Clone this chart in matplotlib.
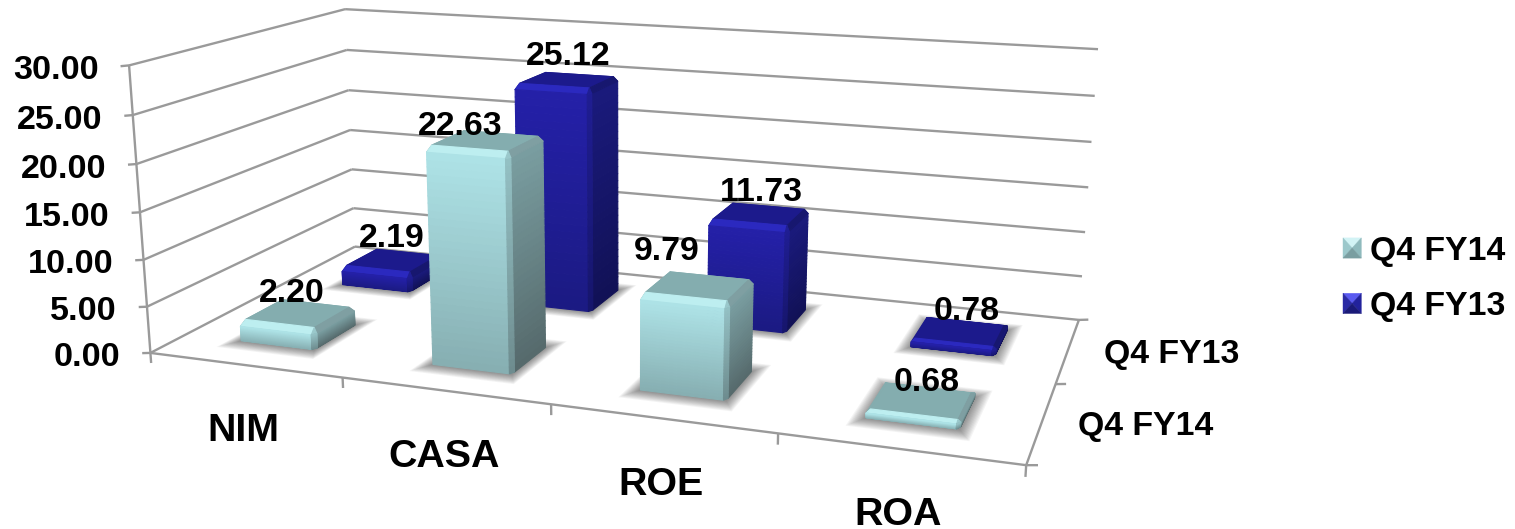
import numpy as np
import matplotlib
matplotlib.use('Agg')
import matplotlib.pyplot as plt
from matplotlib.patches import Patch, Polygon
from matplotlib.legend_handler import HandlerPatch
from matplotlib.transforms import offset_copy
from matplotlib.colors import to_rgb
from mpl_toolkits.mplot3d.art3d import Poly3DCollection

categories = ['NIM', 'CASA', 'ROE', 'ROA']
series_names = ['Q4 FY14', 'Q4 FY13']
q4_fy14 = [2.20, 22.63, 9.79, 0.68]
q4_fy13 = [2.19, 25.12, 11.73, 0.78]
z_ticks = [0, 5, 10, 15, 20, 25, 30]
nudge14 = [(-7, 20), (-26, 14), (-32, 35), (4, 19)]
nudge13 = [(-2, 22), (0, 24), (1, 22), (6, 20)]

W, H = 1515, 529
plt.rcParams['font.family'] = ['Liberation Sans', 'DejaVu Sans']
plt.rcParams['font.weight'] = 'bold'
fig = plt.figure(figsize=(W/100, H/100), dpi=100)
ax = fig.add_axes([432.26/W, -230.41/H, 398.87/W, 496.52/H], projection='3d', proj_type='persp',
                  focal_length=0.8013, computed_zorder=False)
ax.set_axis_off()
ax.apply_aspect = lambda position=None: None   # the view is stretched a little, as in the original
ax.view_init(elev=18.9982, azim=-70.6583, roll=-0.1397)
ax.set_box_aspect((np.exp(1.3310), np.exp(0.6294), 1))
ax.set_xlim(-1.3483-2, -1.3483+2)
ax.set_ylim(10.7399-1, 10.7399+1)
ax.set_zlim(-119.3262-15, -119.3262+15)

GRID = '#9a9a9a'
def line(a, b, lw=1.7):
    ax.plot([a[0], b[0]], [a[1], b[1]], [a[2], b[2]], color=GRID, lw=lw, zorder=1, clip_on=False,
            solid_capstyle='butt')

for z in z_ticks:
    line((0, 2, z), (4, 2, z))
    line((0, 0, z), (0, 2, z))
    line((-0.045, 0, z - 0.14), (0, 0, z))
line((0, 0, 0), (0, 0, 30))
line((0, 0, 0), (4, 0, 0))
line((4, 0, 0), (4, 2, 0))
for i in range(5):
    line((i, 0, 0), (i, 0, -1.1))
for j in range(3):
    line((4, j, 0), (4.045, j, 0.14))

def mix(a, b, t):
    a, b = np.array(to_rgb(a)), np.array(to_rgb(b))
    return tuple(a + (b - a)*t)

TEAL = dict(f0='#aee3e7', f1='#86aeb1', r0='#7a9ea1', r1='#55696b', t='#84adaf', b='#bdeef0', rb='#7f9fa2', c='#9ac8cb')
BLUE = dict(f0='#2420a8', f1='#1b1a82', r0='#1a1a7c', r1='#111155', t='#1c1a8c', b='#2b29bf', rb='#17176f', c='#1f1e94')

def poly(V, zo, **kw):
    c = Poly3DCollection(V, zorder=zo, **kw)
    ax.add_collection3d(c, autolim=False)
    c.set_clip_on(False)
    return c

def draw_bar(xc, yc, h, pal, zo):
    x0, x1, y0, y1 = xc-0.2, xc+0.19, yc-0.2, yc+0.2
    cx_, cy_ = 0.012, 0.03
    cz = min(0.6, h*0.3)
    top = h - cz
    sh = []
    L = 12
    for k in range(L):
        f = 1 - k/L
        mx, my = 0.06*f, 0.12*f
        sh.append([(x0-mx, y0-my, 0), (x1+mx, y0-my, 0), (x1+mx, y1+my, 0), (x0-mx, y1+my, 0)])
    poly(sh, zo-0.5, facecolors=(0, 0, 0, 0.045), edgecolors='none')
    V, C = [], []
    def add(p, col):
        V.append(p); C.append(col)
    N = 30
    for k in range(N):
        z0, z1 = top*k/N, top*(k+1)/N
        t = 1 - (k + 0.5)/N
        front = mix(pal['f0'], pal['f1'], t)
        right = mix(pal['r0'], pal['r1'], t)
        add([(x0, y0, z0), (x1-cx_, y0, z0), (x1-cx_, y0, z1), (x0, y0, z1)], front)
        add([(x1, y0+cy_, z0), (x1, y1, z0), (x1, y1, z1), (x1, y0+cy_, z1)], right)
        add([(x1-cx_, y0, z0), (x1, y0+cy_, z0), (x1, y0+cy_, z1), (x1-cx_, y0, z1)], mix(front, right, 0.5))
    a, b = (x0+cx_, y0+cy_), (x1-cx_, y1-cy_)
    add([(a[0], a[1], h), (b[0], a[1], h), (b[0], b[1], h), (a[0], b[1], h)], pal['t'])
    add([(x0, y0, top), (x1-cx_, y0, top), (b[0], a[1], h), (a[0], a[1], h)], pal['b'])
    add([(x1, y0+cy_, top), (x1, y1, top), (b[0], b[1], h), (b[0], a[1], h)], pal['rb'])
    add([(x1-cx_, y0, top), (x1, y0+cy_, top), (b[0], a[1], h)], pal['c'])
    add([(x0, y0, top), (a[0], a[1], h), (a[0], b[1], h), (x0, y1, top)], pal['t'])
    add([(x0, y1, top), (a[0], b[1], h), (b[0], b[1], h), (x1, y1, top)], pal['t'])
    poly(V, zo, facecolors=C, edgecolors=C, linewidths=0.8)

zo = 3
for i, v in enumerate(q4_fy13):
    draw_bar(i + 0.5, 1.5, v, BLUE, zo); zo += 1
for i, v in enumerate(q4_fy14):
    draw_bar(i + 0.5, 0.5, v, TEAL, zo); zo += 1

def label(x, y, z, s, dx=0, dy=0, size=24.4, ha='center', zorder=30):
    return ax.text(x, y, z, s, fontsize=size, fontweight='bold', ha=ha, va='center', color='black', zorder=zorder,
                   transform=offset_copy(ax.transData, x=dx, y=dy, units='dots'), clip_on=False)

for i, (v, n) in enumerate(zip(q4_fy14, nudge14)):
    label(i + 0.5, 0.5, v, f'{v:.2f}', *n)
for i, (v, n) in enumerate(zip(q4_fy13, nudge13)):
    label(i + 0.5, 1.5, v, f'{v:.2f}', *n)
for z in z_ticks:
    label(0, 0, z, f'{z:.2f}', dx=-30, dy=-5, ha='right', size=24.6)
for i, c in enumerate(categories):
    label(i + 0.5, 0, 0, c, dx=-1, dy=-66, size=28.4)
label(4, 0.5, 0, series_names[0], dx=36, dy=-4, ha='left')
label(4, 1.5, 0, series_names[1], dx=36, dy=-4, ha='left')

class PyramidHandler(HandlerPatch):
    def create_artists(self, legend, orig, xd, yd, w, h, fontsize, trans):
        cols = orig.pyr
        x0, y0 = -xd, -yd
        c = (x0 + w/2, y0 + h/2)
        A, B, C_, D = (x0, y0), (x0+w, y0), (x0+w, y0+h), (x0, y0+h)
        tris = [(D, C_, cols[0]), (A, D, cols[1]), (B, C_, cols[2]), (A, B, cols[3])]
        return [Polygon([p1, p2, c], closed=True, facecolor=col, edgecolor=col, lw=0.3, transform=trans)
                for p1, p2, col in tris]

h14 = Patch(label=series_names[0]); h14.pyr = ('#d2f3f5', '#9cc8cb', '#8fbabd', '#7a9ea1')
h13 = Patch(label=series_names[1]); h13.pyr = ('#5a5af0', '#2a2aa4', '#22229c', '#1a1a78')
fig.legend(handles=[h14, h13], handler_map={Patch: PyramidHandler()}, loc='upper left',
           bbox_to_anchor=(1343/W, 1 - 236/H), frameon=False, borderpad=0, borderaxespad=0,
           handlelength=0.54, handleheight=0.54, handletextpad=0.27, labelspacing=0.72,
           prop=dict(family='Liberation Sans', weight='bold', size=24.4))

fig.savefig('out.png', dpi=100)
